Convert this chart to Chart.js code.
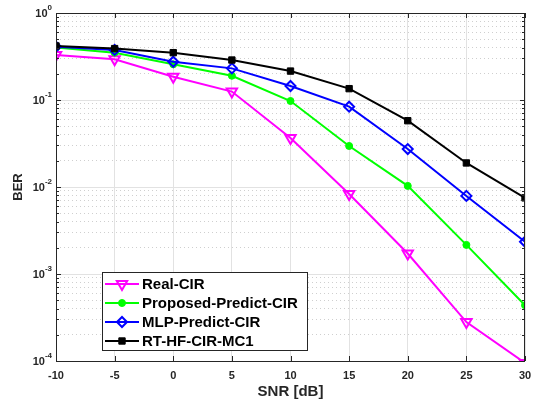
<!DOCTYPE html>
<html>
<head>
<meta charset="utf-8">
<script src="https://cdn.jsdelivr.net/npm/chart.js@4.4.1/dist/chart.umd.min.js"></script>
<style>
  html, body { margin: 0; padding: 0; background: #fff; }
  #wrap { width: 533px; height: 402px; }
</style>
</head>
<body>
<div id="wrap"><canvas id="berChart"></canvas></div>
<script>
// data
const snr = [-10, -5, 0, 5, 10, 15, 20, 25, 30];
const realCir = [0.33, 0.294, 0.185, 0.125, 0.0366, 0.0083, 0.00172, 0.00028, 0.000095];
const proposedCir = [0.40, 0.35, 0.257, 0.19, 0.0974, 0.0296, 0.0103, 0.00216, 0.000437];
const mlpCir = [0.41, 0.376, 0.275, 0.231, 0.145, 0.0838, 0.0273, 0.0079, 0.00235];
const rtCir = [0.418, 0.39, 0.35, 0.288, 0.215, 0.135, 0.0578, 0.0189, 0.0075];
const seriesNames = ['Real-CIR', 'Proposed-Predict-CIR', 'MLP-Predict-CIR', 'RT-HF-CIR-MC1'];
const xTicks = [-10, -5, 0, 5, 10, 15, 20, 25, 30];
const yExponents = [-4, -3, -2, -1, 0];

const axisColor = '#262626';

function isDecade(v) {
  const l = Math.log10(v);
  return Math.abs(l - Math.round(l)) < 1e-6;
}

function toPoints(vals) {
  return snr.map((x, i) => ({ x: x, y: vals[i] }));
}

// box, inward ticks, y labels with superscripts, legend
const matlabPlugin = {
  id: 'matlabStyle',
  afterDatasetsDraw(chart) {
    const ctx = chart.ctx;
    const area = chart.chartArea;
    const xs = chart.scales.x;
    const ys = chart.scales.y;
    ctx.save();

    // box
    ctx.strokeStyle = axisColor;
    ctx.lineWidth = 1;
    ctx.strokeRect(area.left + 0.5, area.top + 0.5, area.right - area.left - 1, area.bottom - area.top);

    // x ticks inward (bottom and top)
    ctx.beginPath();
    xTicks.forEach(t => {
      const px = Math.round(xs.getPixelForValue(t)) + 0.5;
      ctx.moveTo(px, area.bottom); ctx.lineTo(px, area.bottom - 5);
      ctx.moveTo(px, area.top); ctx.lineTo(px, area.top + 5);
    });
    // y ticks inward (left and right)
    ys.ticks.forEach(t => {
      const py = Math.round(ys.getPixelForValue(t.value)) + 0.5;
      const len = isDecade(t.value) ? 5 : 3;
      ctx.moveTo(area.left, py); ctx.lineTo(area.left + len, py);
      ctx.moveTo(area.right, py); ctx.lineTo(area.right - len, py);
    });
    ctx.stroke();

    // y labels 10^n
    ctx.fillStyle = axisColor;
    ctx.textBaseline = 'middle';
    ctx.textAlign = 'right';
    yExponents.forEach(e => {
      const py = ys.getPixelForValue(Math.pow(10, e));
      const expText = String(e);
      ctx.font = 'bold 8px "Liberation Sans", Arial, sans-serif';
      const ew = ctx.measureText(expText).width;
      ctx.fillText(expText, area.left - 4, py - 5);
      ctx.font = 'bold 11px "Liberation Sans", Arial, sans-serif';
      ctx.fillText('10', area.left - 4 - ew, py + 1);
    });

    // legend
    const lx = area.left + 46, ly = area.top + 259, lw = 205, lh = 78;
    ctx.fillStyle = '#fff';
    ctx.fillRect(lx, ly, lw, lh);
    ctx.strokeStyle = axisColor;
    ctx.strokeRect(lx + 0.5, ly + 0.5, lw, lh);
    ctx.font = 'bold 15px "Liberation Sans", Arial, sans-serif';
    ctx.textAlign = 'left';
    chart.data.datasets.forEach((ds, i) => {
      const rowY = ly + 12 + i * 19;
      ctx.strokeStyle = ds.borderColor;
      ctx.lineWidth = 2;
      ctx.beginPath();
      ctx.moveTo(lx + 3, rowY); ctx.lineTo(lx + 37, rowY);
      ctx.stroke();
      ctx.fillStyle = ds.pointBackgroundColor;
      ctx.strokeStyle = ds.borderColor;
      ctx.lineWidth = ds.pointBorderWidth;
      Chart.helpers.drawPoint(ctx, {
        pointStyle: ds.pointStyle,
        rotation: ds.pointRotation || 0,
        radius: ds.pointRadius,
        borderWidth: ds.pointBorderWidth
      }, lx + 20, rowY);
      ctx.fillStyle = '#000';
      ctx.fillText(ds.label, lx + 40, rowY + 1);
    });
    ctx.restore();
  }
};

const chartData = {
  datasets: [
    {
      label: seriesNames[0], data: toPoints(realCir), order: 4,
      borderColor: '#ff00ff', backgroundColor: '#ff00ff', borderWidth: 2,
      pointStyle: 'triangle', pointRotation: 180, pointRadius: 6,
      pointBackgroundColor: 'rgba(255,255,255,0)', pointBorderColor: '#ff00ff', pointBorderWidth: 2
    },
    {
      label: seriesNames[1], data: toPoints(proposedCir), order: 3,
      borderColor: '#00ff00', backgroundColor: '#00ff00', borderWidth: 2,
      pointStyle: 'circle', pointRadius: 3.5,
      pointBackgroundColor: '#00ff00', pointBorderColor: '#00ff00', pointBorderWidth: 1
    },
    {
      label: seriesNames[2], data: toPoints(mlpCir), order: 2,
      borderColor: '#0000ff', backgroundColor: '#0000ff', borderWidth: 2,
      pointStyle: 'rectRot', pointRadius: 5,
      pointBackgroundColor: 'rgba(255,255,255,0)', pointBorderColor: '#0000ff', pointBorderWidth: 2
    },
    {
      label: seriesNames[3], data: toPoints(rtCir), order: 1,
      borderColor: '#000000', backgroundColor: '#000000', borderWidth: 2,
      pointStyle: 'rect', pointRadius: 4.5,
      pointBackgroundColor: '#000000', pointBorderColor: '#000000', pointBorderWidth: 1
    }
  ]
};

new Chart(document.getElementById('berChart').getContext('2d'), {
  type: 'line',
  data: chartData,
  options: {
    responsive: true,
    maintainAspectRatio: false,
    animation: false,
    layout: { padding: { top: 13, right: 7, left: 0, bottom: 0 } },
    plugins: {
      legend: { display: false },
      tooltip: { enabled: false }
    },
    scales: {
      x: {
        type: 'linear',
        min: -10,
        max: 30,
        afterBuildTicks: s => { s.ticks = xTicks.map(v => ({ value: v })); },
        afterFit: s => { s.height = 41; s.paddingLeft = 0; s.paddingRight = 0; },
        ticks: {
          color: axisColor,
          padding: 8,
          font: { family: '"Liberation Sans", Arial, sans-serif', size: 11, weight: 'bold' }
        },
        grid: { color: '#e2e2e2', drawTicks: false },
        border: { display: false },
        title: {
          display: true,
          text: 'SNR [dB]',
          color: axisColor,
          padding: { top: 0, bottom: 1 },
          font: { family: '"Liberation Sans", Arial, sans-serif', size: 15, weight: 'bold' }
        }
      },
      y: {
        type: 'logarithmic',
        min: 1e-4,
        max: 1,
        afterBuildTicks: s => {
          const t = [];
          for (let e = -4; e < 0; e++) {
            for (let m = 1; m < 10; m++) t.push({ value: m * Math.pow(10, e) });
          }
          t.push({ value: 1 });
          s.ticks = t;
        },
        afterFit: s => { s.width = 56; },
        ticks: { display: false },
        grid: {
          drawTicks: false,
          color: c => (c.tick && isDecade(c.tick.value)) ? '#e2e2e2' : '#cfcfcf'
        },
        border: {
          display: false,
          dash: c => (c.tick && isDecade(c.tick.value)) ? [] : [1, 3]
        },
        title: {
          display: true,
          text: 'BER',
          color: axisColor,
          padding: { top: 11, bottom: 0 },
          font: { family: '"Liberation Sans", Arial, sans-serif', size: 13, weight: 'bold' }
        }
      }
    }
  },
  plugins: [matlabPlugin]
});
</script>
</body>
</html>
